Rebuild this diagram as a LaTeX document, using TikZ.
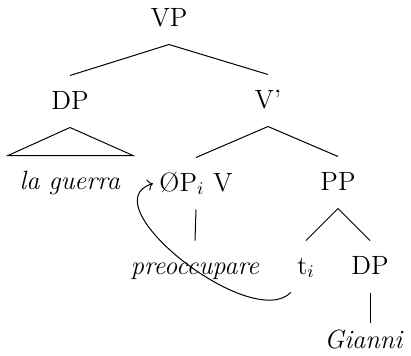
\documentclass[tikz,border=0pt]{standalone}
\usetikzlibrary{arrows.meta}
\begin{document}
\begin{tikzpicture}[x=0.5pt,y=-0.5pt,line width=0.5pt,
  lbl/.style={anchor=base,font=\fontsize{13.2}{15}\selectfont,text height=10.5pt,text depth=3pt,inner ysep=6pt,inner xsep=3pt}]
\useasboundingbox (0,0) rectangle (411,355);
\node[lbl] (VP) at (169,26) {VP};
\node[lbl] (DP1) at (70,109) {DP};
\node[lbl] (Vb) at (268,108) {V'};
\node[lbl] (lg) at (70,189) {\textit{la guerra}};
\node[lbl] (opv) at (196,191) {\O P$_i$ V};
\node[lbl] (PP) at (338,190) {PP};
\node[lbl] (pre) at (195,274) {\textit{preoccupare}};
\node[lbl] (ti) at (306,274) {t$_i$};
\node[lbl] (DP2) at (370,274) {DP};
\node[lbl] (gi) at (364,348) {\textit{Gianni}};
\draw (VP.south) -- (DP1.north);
\draw (VP.south) -- (Vb.north);
\draw (DP1.south) -- ([xshift=-31pt]lg.north) -- ([xshift=31.5pt]lg.north) -- cycle;
\draw (Vb.south) -- (opv.north);
\draw (Vb.south) -- (PP.north);
\draw (opv.south) -- (pre.north);
\draw (PP.south) -- (ti.north);
\draw (PP.south) -- (DP2.north);
\draw[shorten >=-4pt] (DP2.south) -- (DP2.south |- gi.north);
\draw[->] (ti.south west) .. controls +(-40,40) and +(-65,20) .. (opv.west);
\end{tikzpicture}
\end{document}
